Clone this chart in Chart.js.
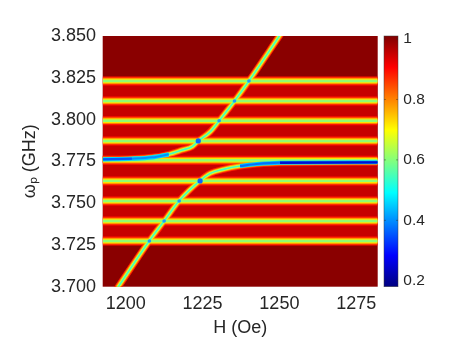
<!DOCTYPE html>
<html>
<head>
<meta charset="utf-8">
<script src="https://cdn.jsdelivr.net/npm/chart.js@4.4.1/dist/chart.umd.min.js"></script>
<style>
  html, body { margin: 0; padding: 0; background: #ffffff; }
  #wrap { width: 467px; height: 350px; }
</style>
</head>
<body>
<div id="wrap"><canvas id="c" width="467" height="350"></canvas></div>
<script>
// ---------------- data ----------------
const hLimits = [1192.5, 1282];            // H axis range (Oe)
const fLimits = [3.700, 3.850];            // frequency axis range (GHz)
const xTicks = [1200, 1225, 1250, 1275];
const yTicks = [3.700, 3.725, 3.750, 3.775, 3.800, 3.825, 3.850];
const colorTicks = [0.2, 0.4, 0.6, 0.8, 1];
const colorLimits = [0.1805, 1.0099];

// standing (horizontal) modes, GHz
const modeFreqs = [3.7273, 3.7393, 3.7513, 3.7633, 3.7757, 3.7872, 3.7993, 3.8111, 3.8231];

// upper hybrid branch (left flat part -> Kittel line towards the top)
const upperBranchH = [1192.5, 1202.0, 1208.6, 1214.0, 1218.4, 1221.6, 1223.6, 1227.5, 1230.4, 1235.4, 1240.1, 1250.0];
const upperBranchF = [3.7762, 3.7766, 3.7774, 3.7792, 3.7818, 3.7838, 3.7872, 3.7927, 3.7993, 3.8111, 3.8231, 3.8500];

// lower hybrid branch (Kittel line from the bottom -> flat part on the right)
const lowerBranchH = [1197.6, 1207.7, 1212.5, 1217.4, 1224.2, 1227.5, 1231.8, 1237.2, 1242.6, 1250.2, 1282.0];
const lowerBranchF = [3.7000, 3.7275, 3.7393, 3.7514, 3.7635, 3.7678, 3.7702, 3.7722, 3.7734, 3.7742, 3.7744];

// crossings of the Kittel line with the standing modes
const crossingH = [1207.7, 1212.5, 1217.4, 1224.2, 1223.6, 1230.4, 1235.4, 1240.1];
const crossingF = [3.7273, 3.7393, 3.7513, 3.7633, 3.7872, 3.7993, 3.8111, 3.8231];

// ---------------- styling / construction ----------------
const FONT = "'Liberation Sans', Arial, Helvetica, sans-serif";
const TXT = '#262626';
Chart.defaults.font.family = FONT;

function pts(hs, fs) { return hs.map((h, i) => ({ x: h, y: fs[i] })); }
function jet(t) {
  const cl = v => Math.max(0, Math.min(1, v));
  const r = cl(1.5 - Math.abs(4 * t - 3)), g = cl(1.5 - Math.abs(4 * t - 2)), b = cl(1.5 - Math.abs(4 * t - 1));
  return `rgb(${Math.round(r * 255)},${Math.round(g * 255)},${Math.round(b * 255)})`;
}

const modeLayers = [
  { w: 9.0, c: '#ff1400' },
  { w: 6.5, c: '#ff8000' },
  { w: 4.5, c: '#ffe000' },
  { w: 2.4, c: '#90ff70' }
];
const kittelLayers = [
  { w: 7.0, c: '#ff2000' },
  { w: 5.0, c: '#ff9a00' },
  { w: 3.2, c: '#d8ff30' },
  { w: 1.6, c: '#40ffc0' }
];

function lineDs(data, w, c, extra) {
  return Object.assign({
    data: data, showLine: true, borderColor: c, borderWidth: w,
    pointRadius: 0, pointHoverRadius: 0, fill: false, clip: 0,
    borderCapStyle: 'square', cubicInterpolationMode: 'monotone'
  }, extra || {});
}

const datasets = [];
// red band between the outermost standing modes
datasets.push({
  data: [{ x: hLimits[0], y: modeFreqs[modeFreqs.length - 1] }, { x: hLimits[1], y: modeFreqs[modeFreqs.length - 1] }],
  showLine: true, borderWidth: 0, pointRadius: 0, clip: 0,
  fill: { value: modeFreqs[0] }, backgroundColor: '#c60000'
});

const upperPts = pts(upperBranchH, upperBranchF);
const lowerPts = pts(lowerBranchH, lowerBranchF);

for (let L = 0; L < 4; L++) {
  modeFreqs.forEach(f => {
    datasets.push(lineDs([{ x: hLimits[0], y: f }, { x: hLimits[1], y: f }], modeLayers[L].w, modeLayers[L].c, { borderCapStyle: 'butt' }));
  });
  datasets.push(lineDs(upperPts, kittelLayers[L].w, kittelLayers[L].c));
  datasets.push(lineDs(lowerPts, kittelLayers[L].w, kittelLayers[L].c));
}

// blue cores of the flat parts of the hybrid branches
const upperFlat = upperPts.filter(p => p.x <= 1214.0);
const upperFlatDeep = upperPts.filter(p => p.x <= 1202.0);
const lowerFlat = lowerPts.filter(p => p.x >= 1237.2);
const lowerFlatDeep = lowerPts.filter(p => p.x >= 1250.2);
datasets.push(lineDs(upperFlat, 4.4, '#00d8ff', { borderCapStyle: 'butt' }));
datasets.push(lineDs(upperFlat, 2.0, '#0090ff', { borderCapStyle: 'butt' }));
datasets.push(lineDs(upperFlatDeep, 2.2, '#0058ff', { borderCapStyle: 'butt' }));
datasets.push(lineDs(lowerFlat, 4.0, '#00c8ff', { borderCapStyle: 'butt' }));
datasets.push(lineDs(lowerFlat, 2.2, '#0070ff', { borderCapStyle: 'butt' }));
datasets.push(lineDs(lowerFlatDeep, 2.4, '#0010d0', { borderCapStyle: 'butt' }));

// crossing spots
datasets.push({
  data: pts(crossingH, crossingF), showLine: false, clip: 0,
  pointRadius: ctx => (Math.abs(ctx.raw.y - 3.7757) < 0.015 ? 2.6 : 1.8),
  pointBackgroundColor: ctx => (Math.abs(ctx.raw.y - 3.7757) < 0.015 ? '#0a64ff' : '#1a9cff'),
  pointBorderWidth: 0, pointHoverRadius: 0
});

datasets.forEach((d, i) => { d.order = datasets.length - i; });

const bgPlugin = {
  id: 'bg',
  beforeDatasetsDraw(chart) {
    const { ctx, chartArea: a } = chart;
    ctx.save();
    ctx.fillStyle = '#8a0000';
    ctx.fillRect(a.left, a.top, a.right - a.left, a.bottom - a.top);
    ctx.restore();
  }
};

const colorbarPlugin = {
  id: 'colorbar',
  afterDraw(chart) {
    const { ctx, chartArea: a } = chart;
    const y2 = chart.scales.y2;
    const x0 = a.right + 6.3, x1 = a.right + 20.3;
    const top = y2.top, bot = y2.bottom;
    ctx.save();
    const g = ctx.createLinearGradient(0, bot, 0, top);
    for (let k = 0; k <= 64; k++) { const t = k / 64; g.addColorStop(t, jet(t)); }
    ctx.fillStyle = g;
    ctx.fillRect(x0, top, x1 - x0, bot - top);
    ctx.strokeStyle = 'rgba(60,60,60,0.8)';
    ctx.lineWidth = 0.6;
    ctx.strokeRect(x0, top, x1 - x0, bot - top);
    ctx.strokeStyle = 'rgba(38,38,38,0.7)';
    ctx.beginPath();
    colorTicks.forEach(v => {
      const y = y2.getPixelForValue(v);
      if (y > top + 2 && y < bot - 2) {
        ctx.moveTo(x0, y); ctx.lineTo(x0 + 2, y);
        ctx.moveTo(x1, y); ctx.lineTo(x1 - 2, y);
      }
    });
    ctx.stroke();
    ctx.restore();
  }
};

new Chart(document.getElementById('c'), {
  type: 'scatter',
  data: { datasets },
  plugins: [bgPlugin, colorbarPlugin],
  options: {
    responsive: false,
    animation: false,
    devicePixelRatio: 1,
    layout: { padding: { top: 36, left: 0, right: 0, bottom: 0 } },
    plugins: { legend: { display: false }, tooltip: { enabled: false } },
    events: [],
    scales: {
      x: {
        type: 'linear', min: hLimits[0], max: hLimits[1],
        afterBuildTicks: s => { s.ticks = xTicks.map(v => ({ value: v })); },
        afterFit: s => { s.height = 63.3; },
        ticks: { font: { size: 18 }, color: TXT, padding: 6.2, callback: v => String(v), maxRotation: 0 },
        grid: { display: false, drawTicks: false },
        border: { display: false },
        title: { display: true, text: 'H (Oe)', font: { size: 18 }, color: TXT, padding: { top: 0, bottom: 11 } }
      },
      y: {
        type: 'linear', min: fLimits[0], max: fLimits[1],
        afterBuildTicks: s => { s.ticks = yTicks.map(v => ({ value: v })); },
        afterFit: s => { s.width = 102.7; },
        ticks: { font: { size: 18 }, color: TXT, padding: 6.7, callback: v => Number(v).toFixed(3) },
        grid: { display: false, drawTicks: false },
        border: { display: false },
        title: { display: true, text: 'ω\u209A (GHz)', font: { size: 18 }, color: TXT, padding: { top: 19, bottom: 0 } }
      },
      y2: {
        type: 'linear', position: 'right', min: colorLimits[0], max: colorLimits[1],
        afterBuildTicks: s => { s.ticks = colorTicks.map(v => ({ value: v })); },
        afterFit: s => { s.width = 467 - 377.7; },
        ticks: { font: { size: 15.5 }, color: TXT, padding: 25.6, callback: v => String(Math.round(v * 10) / 10) },
        grid: { display: false, drawTicks: false },
        border: { display: false }
      }
    }
  }
});
</script>
</body>
</html>
